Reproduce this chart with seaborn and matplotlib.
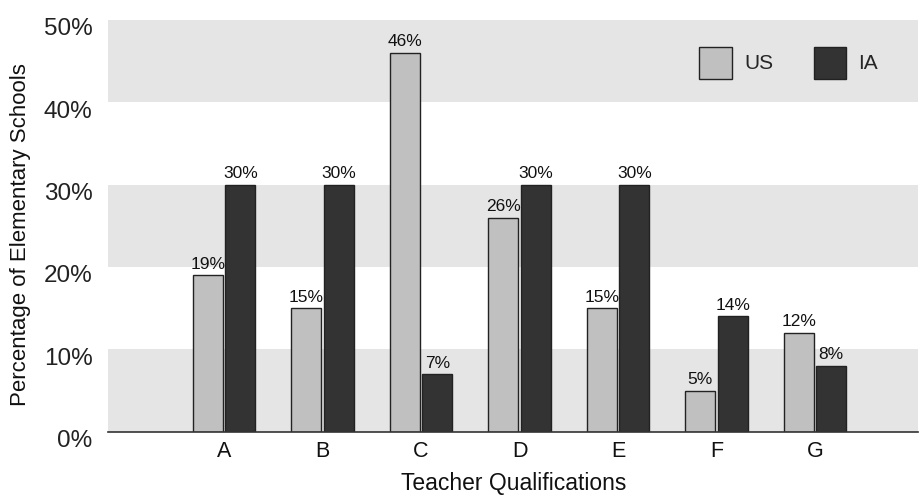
import matplotlib
matplotlib.use("Agg")
import matplotlib.pyplot as plt
import seaborn as sns
import pandas as pd
from matplotlib.ticker import PercentFormatter
from matplotlib.transforms import ScaledTranslation

categories = ["A", "B", "C", "D", "E", "F", "G"]
us_values = [19, 15, 46, 26, 15, 5, 12]
ia_values = [30, 30, 7, 30, 30, 14, 8]
series = ["US", "IA"]
y_ticks = [0, 10, 20, 30, 40, 50]

df = pd.DataFrame({
    "cat": categories * 2,
    "series": ["US"] * len(categories) + ["IA"] * len(categories),
    "val": us_values + ia_values,
})

sns.set_theme(style="white")
plt.rcParams['font.family'] = ['Liberation Sans', 'DejaVu Sans']

fig = plt.figure(figsize=(9.23, 4.98), dpi=100)
ax = fig.add_axes([0.117, 0.133, 0.878, 0.827])

for lo in (0, 20, 40):
    ax.axhspan(lo, lo + 10, color="#e5e5e5", zorder=0, lw=0)

sns.barplot(data=df, x="cat", y="val", hue="series", hue_order=series,
            palette={"US": "#c0c0c0", "IA": "#333333"}, width=0.66, gap=0.08,
            edgecolor="#222222", linewidth=1.0, saturation=1, ax=ax, zorder=2)

for cont in ax.containers:
    ax.bar_label(cont, labels=[f"{int(v)}%" for v in cont.datavalues],
                 padding=2.5, fontsize=12.5, color="#111111")

ax.set_ylim(0, 50)
ax.set_xlim(-1.18, 7.05)
ax.set_yticks(y_ticks)
ax.yaxis.set_major_formatter(PercentFormatter(decimals=0))
ax.tick_params(axis="y", length=0, labelsize=17.5, pad=11, labelcolor="#222222")
ax.tick_params(axis="x", length=0, labelsize=15.5, pad=7, labelcolor="#111111")
offset = ScaledTranslation(0, -5 / 72, fig.dpi_scale_trans)
for lab in ax.get_yticklabels():
    lab.set_transform(lab.get_transform() + offset)
for s in ("top", "right", "left"):
    ax.spines[s].set_visible(False)
ax.spines["bottom"].set_color("#333333")
ax.spines["bottom"].set_linewidth(1.2)
ax.spines["bottom"].set_zorder(3)

ax.set_xlabel("Teacher Qualifications", fontsize=16.5, labelpad=7, color="#111111")
ax.set_ylabel("Percentage of Elementary Schools", fontsize=16, color="#111111")
ax.yaxis.set_label_coords(-0.095, 0.478)

leg = ax.legend(loc="upper left", bbox_to_anchor=(0.7296, 0.935), ncol=2, frameon=False,
                fontsize=15, handlelength=1.55, handleheight=2.0,
                columnspacing=1.95, handletextpad=0.6, borderaxespad=0, borderpad=0)

fig.savefig("out.png", dpi=100)
